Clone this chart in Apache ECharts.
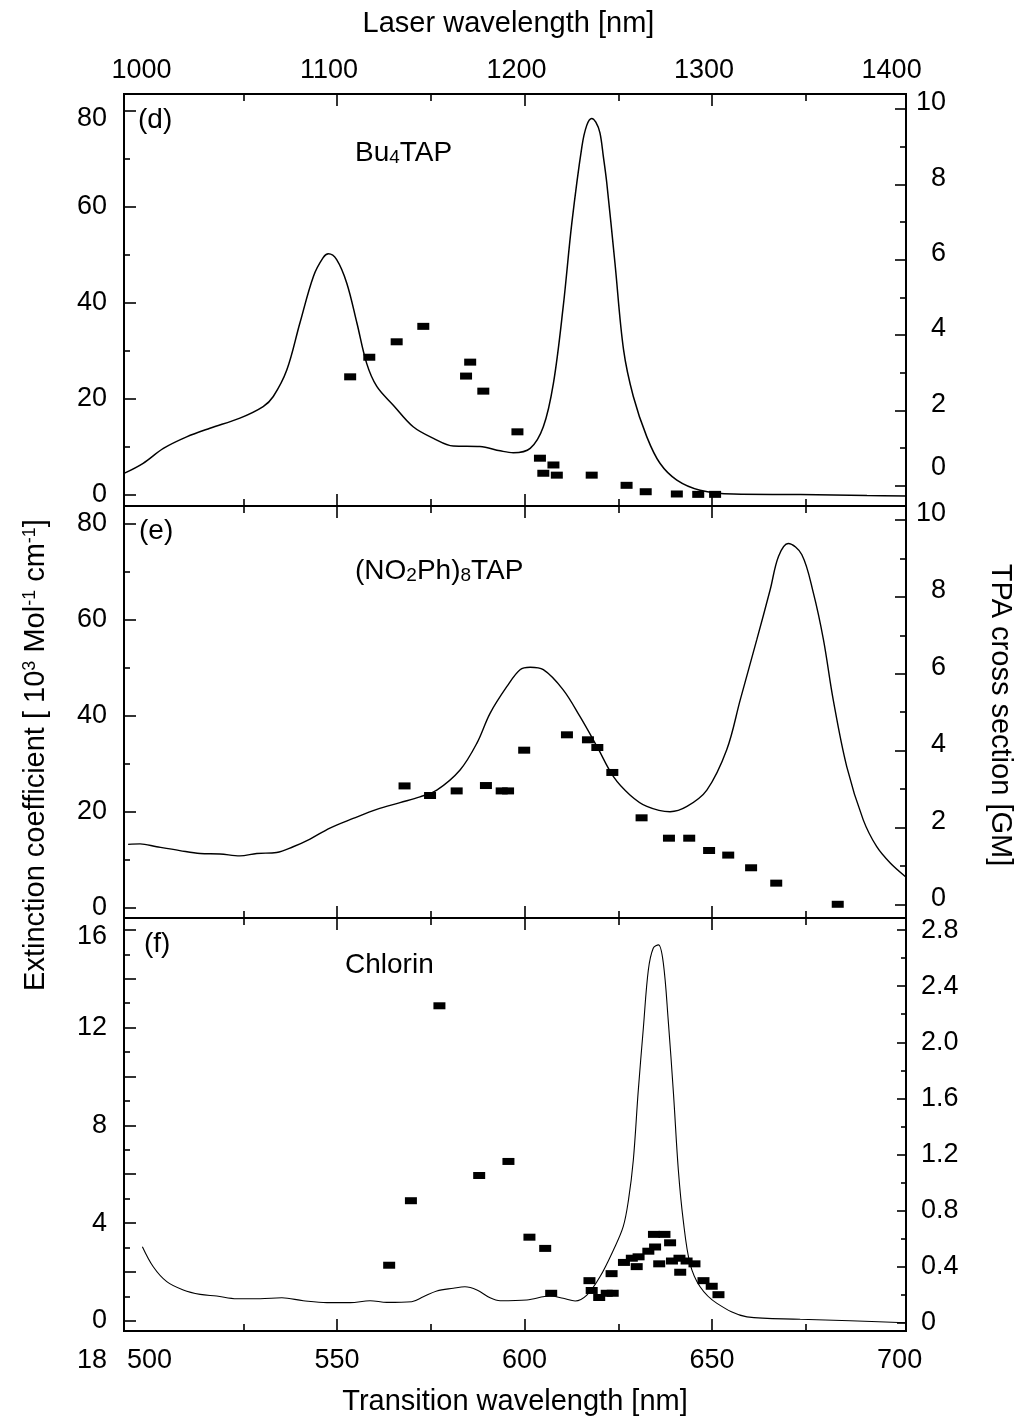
<!DOCTYPE html>
<html><head><meta charset="utf-8">
<script src="https://cdn.jsdelivr.net/npm/echarts@6/dist/echarts.min.js"></script>
<style>html,body{margin:0;padding:0;background:#fff}#c{width:1018px;height:1420px}</style>
</head><body><div id="c"></div>
<script>
// ---------- data ----------
const transitionLabels = [500, 550, 600, 650, 700];
const laserLabels = [1000, 1100, 1200, 1300, 1400];
const extLabelsDE = [0, 20, 40, 60, 80];
const extLabelsF = [0, 4, 8, 12, 16];
const tpaLabelsDE = [0, 2, 4, 6, 8, 10];
const tpaLabelsF = [0, 0.4, 0.8, 1.2, 1.6, 2.0, 2.4, 2.8];

// (d) Bu4TAP
const dExtX = [493.2,498.3,503.7,509.9,516.1,524.1,530.3,533.0,536.6,540.1,543.7,546.3,547.7,549.9,552.6,555.3,557.9,560.6,565.0,570.3,575.7,581.0,588.1,593.5,597.0,601.5,605.0,607.7,610.3,612.6,615.3,616.6,617.9,619.0,620.1,621.0,621.9,624.1,626.4,629.0,632.6,636.1,640.6,646.8,655.7,673.5,691.3,701.7];
const dExtY = [4.5,6.6,9.7,12.1,13.9,16.0,18.4,20.5,26.0,35.8,45.5,49.4,50.2,49.0,44.1,35.8,27.4,22.6,18.7,14.2,11.8,10.2,10.1,9.2,8.8,9.7,14.2,23.3,39.2,56.6,72.6,77.0,78.4,77.6,75.4,70.5,65.1,48.3,30.2,20.5,12.1,6.6,3.1,1.0,0.2,0.1,-0.1,-0.2];
const dTpaX = [553.5,558.6,565.9,573.0,585.5,584.4,589.0,598.1,604.1,607.7,605.0,608.6,617.9,627.2,632.3,640.6,646.3,650.8];
const dTpaY = [2.89,3.41,3.82,4.23,3.28,2.91,2.51,1.43,0.73,0.55,0.33,0.28,0.28,0.01,-0.16,-0.22,-0.23,-0.23];

// (e) (NO2Ph)8TAP
const eExtX = [494.3,497.5,501.9,508.1,513.5,518.8,524.1,528.6,533.9,538.3,542.8,548.1,554.3,560.6,566.8,572.1,576.6,582.8,587.3,590.8,595.3,598.8,601.5,605.0,610.3,614.8,619.3,623.7,628.1,632.6,638.8,643.3,648.6,653.9,657.5,661.9,665.5,667.7,670.3,673.9,677.0,679.7,682.3,685.9,690.3,693.9,697.5,701.5];
const eExtY = [13.2,13.3,12.7,11.9,11.3,11.2,10.8,11.3,11.5,12.7,14.3,16.6,18.6,20.5,21.9,23.1,24.5,28.7,34.3,40.5,46.1,49.6,50.1,49.6,45.4,39.8,33.6,27.3,23.5,21.1,20.0,21.1,24.5,32.9,43.3,55.8,66.3,73.2,75.9,73.6,65.6,55.8,43.3,29.4,18.3,12.7,9.3,6.5];
const eTpaX = [568.0,574.8,581.9,589.7,593.9,595.6,599.9,611.3,616.9,619.4,623.4,631.2,638.5,643.9,649.2,654.3,660.4,667.1,683.5];
const eTpaY = [3.08,2.83,2.95,3.09,2.95,2.95,4.01,4.41,4.28,4.08,3.43,2.25,1.72,1.72,1.40,1.28,0.95,0.55,0.00];

// (f) Chlorin
const fExtX = [498.1,501.0,504.6,509.0,513.5,517.9,523.3,529.5,535.3,541.0,547.3,553.5,558.8,563.3,569.9,573.0,576.6,581.0,584.1,587.3,590.8,593.5,600.6,606.8,610.3,613.5,616.6,620.1,623.7,626.3,627.7,629.0,630.3,631.7,633.0,634.3,635.7,637.0,638.3,639.7,641.0,642.3,644.1,646.8,651.3,659.3,673.5,686.8,701.5];
const fExtY = [3.03,2.21,1.60,1.26,1.08,1.01,0.90,0.90,0.94,0.82,0.74,0.74,0.82,0.75,0.78,0.98,1.22,1.33,1.39,1.26,0.94,0.82,0.85,1.01,0.92,0.81,1.05,1.80,2.90,3.85,4.94,6.58,9.39,12.04,14.36,15.25,15.39,14.64,12.31,9.31,6.17,4.12,2.35,1.39,0.71,0.16,0.06,0.0,-0.08];
const fTpaX = [563.9,569.7,577.3,587.9,595.7,601.3,605.5,607.1,617.3,617.9,619.9,621.9,623.5,623.2,626.5,628.6,630.4,629.9,633.0,634.8,634.5,637.3,635.9,638.8,639.3,641.3,641.5,643.2,645.3,647.7,649.9,651.7];
const fTpaY = [0.41,0.87,2.26,1.05,1.15,0.61,0.53,0.21,0.30,0.23,0.18,0.21,0.21,0.35,0.43,0.46,0.47,0.40,0.51,0.54,0.63,0.63,0.42,0.57,0.44,0.46,0.36,0.44,0.42,0.30,0.26,0.20];

// ---------- layout / style ----------
const FONT = '"Liberation Sans", Arial, Helvetica, sans-serif';
const X_MIN = 493.2, X_MAX = 701.7;
const GRIDS = [{top: 94, height: 412}, {top: 506, height: 412}, {top: 918, height: 413}];
const Y_LEFT = [[-2.29, 83.48], [-2.15, 83.71], [-0.42, 16.49]];
const Y_RIGHT = [[-0.539, 10.398], [-0.357, 10.364], [-0.059, 2.886]];

const zip = (a, b) => a.map((v, i) => [v, b[i]]);
const tickStyle = {color: '#000', width: 1.6};

function axisDef(g, pos, min, max, ticks, len, label) {
  const ax = {
    type: 'value', gridIndex: g, position: pos, min: min, max: max,
    axisLine: {show: false, onZero: false}, splitLine: {show: false},
    axisTick: {show: true, inside: true, length: len, customValues: ticks, lineStyle: tickStyle},
    axisLabel: {show: false}
  };
  if (label) Object.assign(ax, label);
  return ax;
}
const rich = {
  n: {fontSize: 27, fontFamily: FONT, color: '#000'},
  dn8: {fontSize: 27, fontFamily: FONT, color: '#000', padding: [16, 0, 0, 0]},
  dn7: {fontSize: 27, fontFamily: FONT, color: '#000', padding: [14, 0, 0, 0]},
  up6: {fontSize: 27, fontFamily: FONT, color: '#000', padding: [0, 0, 12, 0]},
  up18: {fontSize: 27, fontFamily: FONT, color: '#000', padding: [0, 0, 36, 0]}
};
function lab(values, margin, fmt, extra) {
  return {axisLabel: Object.assign({show: true, customValues: values, margin: margin, fontSize: 27,
    fontFamily: FONT, color: '#000', formatter: fmt, rich: rich}, extra || {})};
}

const xAxes = [], yAxes = [];
for (let g = 0; g < 3; g++) {
  // bottom
  xAxes.push(axisDef(g, 'bottom', X_MIN, X_MAX, [550, 600, 650], 12,
    g === 2 ? Object.assign(lab(transitionLabels, 16, v => String(v)), {
      name: 'Transition wavelength [nm]', nameLocation: 'middle', nameGap: 56,
      nameTextStyle: {fontSize: 29, fontFamily: FONT, color: '#000'}}) : null));
  xAxes.push(axisDef(g, 'bottom', X_MIN, X_MAX, [525, 575, 625, 675], 7, null));
  // top
  if (g === 0) {
    xAxes.push(axisDef(g, 'top', 2 * X_MIN, 2 * X_MAX, [1100, 1200, 1300], 12,
      Object.assign(lab(laserLabels, 10, v => String(v), {padding: [0, 16, 0, 0]}), {
        name: 'Laser wavelength [nm]', nameLocation: 'middle', nameGap: 56,
        nameTextStyle: {fontSize: 29, fontFamily: FONT, color: '#000', padding: [0, 13, 0, 0]}})));
    xAxes.push(axisDef(g, 'top', 2 * X_MIN, 2 * X_MAX, [1050, 1150, 1250, 1350], 7, null));
  } else {
    xAxes.push(axisDef(g, 'top', X_MIN, X_MAX, [550, 600, 650], 12, null));
    xAxes.push(axisDef(g, 'top', X_MIN, X_MAX, [525, 575, 625, 675], 7, null));
  }
}
// y axes: per grid left-major, left-minor, right-major, right-minor
// (d)
yAxes.push(axisDef(0, 'left', Y_LEFT[0][0], Y_LEFT[0][1], [0, 20, 40, 60, 80], 12,
  lab(extLabelsDE, 17, v => (v === 80 ? '{dn8|80}' : '{n|' + v + '}'))));
yAxes.push(axisDef(0, 'left', Y_LEFT[0][0], Y_LEFT[0][1], [10, 30, 50, 70], 6, null));
yAxes.push(axisDef(0, 'right', Y_RIGHT[0][0], Y_RIGHT[0][1], [0, 2, 4, 6, 8, 10], 11,
  lab(tpaLabelsDE, 40, v => (v === 0 ? '{up18|0}' : '{up6|' + v + '}'), {align: 'right'})));
yAxes.push(axisDef(0, 'right', Y_RIGHT[0][0], Y_RIGHT[0][1], [1, 3, 5, 7, 9], 6, null));
// (e)
yAxes.push(axisDef(1, 'left', Y_LEFT[1][0], Y_LEFT[1][1], [0, 20, 40, 60, 80], 12,
  lab(extLabelsDE, 17, v => '{n|' + v + '}')));
yAxes.push(axisDef(1, 'left', Y_LEFT[1][0], Y_LEFT[1][1], [10, 30, 50, 70], 6, null));
yAxes.push(axisDef(1, 'right', Y_RIGHT[1][0], Y_RIGHT[1][1], [0, 2, 4, 6, 8, 10], 11,
  lab(tpaLabelsDE, 40, v => '{up6|' + v + '}', {align: 'right'})));
yAxes.push(axisDef(1, 'right', Y_RIGHT[1][0], Y_RIGHT[1][1], [1, 3, 5, 7, 9], 6, null));
// (f)
yAxes.push(axisDef(2, 'left', Y_LEFT[2][0], Y_LEFT[2][1], [0, 2, 4, 6, 8, 10, 12, 14, 16], 12,
  lab(extLabelsF, 17, v => (v === 16 ? '{dn7|16}' : '{n|' + v + '}'))));
yAxes.push(axisDef(2, 'left', Y_LEFT[2][0], Y_LEFT[2][1], [1, 3, 5, 7, 9, 11, 13, 15], 6, null));
yAxes.push(axisDef(2, 'right', Y_RIGHT[2][0], Y_RIGHT[2][1], tpaLabelsF, 9,
  lab(tpaLabelsF, 15, v => (v === 0 ? '0' : v.toFixed(1)), {align: 'left'})));
yAxes.push(axisDef(2, 'right', Y_RIGHT[2][0], Y_RIGHT[2][1], [0.2, 0.6, 1.0, 1.4, 1.8, 2.2, 2.6], 5, null));

function lineSeries(g, xs, ys, w) {
  return {type: 'line', xAxisIndex: 4 * g, yAxisIndex: 4 * g, data: zip(xs, ys),
    showSymbol: false, symbol: 'none', smooth: 0.35,
    lineStyle: {color: '#000', width: w}, z: 2, silent: true};
}
function tpaSeries(g, xs, ys) {
  return {type: 'scatter', xAxisIndex: 4 * g, yAxisIndex: 4 * g + 2, data: zip(xs, ys),
    symbol: 'rect', symbolSize: [12, 7], itemStyle: {color: '#000', opacity: 1}, z: 3, silent: true};
}

const T = {fontSize: 28, fontFamily: FONT, color: '#000', lineHeight: 30, verticalAlign: 'bottom'};
const SUB = {fontSize: 19, fontFamily: FONT, color: '#000', lineHeight: 14, verticalAlign: 'bottom'};
function txt(x, y, text, extra) {
  return {type: 'text', x: x, y: y, silent: true, z: 10,
    style: Object.assign({text: text, fontSize: 28, fontFamily: FONT, fill: '#000',
      align: 'left', verticalAlign: 'middle', rich: {n: T, s: SUB}}, extra || {})};
}
const TT = {fontSize: 29, fontFamily: FONT, color: '#000', lineHeight: 30, verticalAlign: 'top'};
const SUP = {fontSize: 18, fontFamily: FONT, color: '#000', lineHeight: 12, verticalAlign: 'top'};

const option = {
  animation: false,
  backgroundColor: '#fff',
  grid: GRIDS.map(g => ({left: 124, right: 112, top: g.top, height: g.height, show: true,
    borderColor: '#000', borderWidth: 2, backgroundColor: 'transparent', containLabel: false,
    outerBoundsMode: 'none'})),
  xAxis: xAxes,
  yAxis: yAxes,
  series: [
    lineSeries(0, dExtX, dExtY, 1.5), tpaSeries(0, dTpaX, dTpaY),
    lineSeries(1, eExtX, eExtY, 1.4), tpaSeries(1, eTpaX, eTpaY),
    lineSeries(2, fExtX, fExtY, 1.1), tpaSeries(2, fTpaX, fTpaY)
  ],
  graphic: [
    txt(138, 120, '(d)'),
    txt(355, 152, '{n|Bu}{s|4}{n|TAP}'),
    txt(139, 531, '(e)'),
    txt(355, 570, '{n|(NO}{s|2}{n|Ph)}{s|8}{n|TAP}'),
    txt(144, 944, '(f)'),
    txt(345, 965, 'Chlorin'),
    txt(107, 1361, '18', {fontSize: 27, align: 'right'}),
    {type: 'text', x: 36, y: 755, rotation: Math.PI / 2, silent: true,
      style: {text: '{t|Extinction coefficient [ 10}{p|3}{t| Mol}{p|-1}{t| cm}{p|-1}{t|]}',
        fontSize: 29, fontFamily: FONT, fill: '#000', align: 'center', verticalAlign: 'middle',
        rich: {t: TT, p: SUP}}},
    {type: 'text', x: 1000, y: 715, rotation: -Math.PI / 2, silent: true,
      style: {text: 'TPA cross section [GM]', fontSize: 29, fontFamily: FONT, fill: '#000',
        align: 'center', verticalAlign: 'middle'}}
  ]
};
const chart = echarts.init(document.getElementById('c'), null, {renderer: 'canvas'});
chart.setOption(option);
</script>
</body></html>
